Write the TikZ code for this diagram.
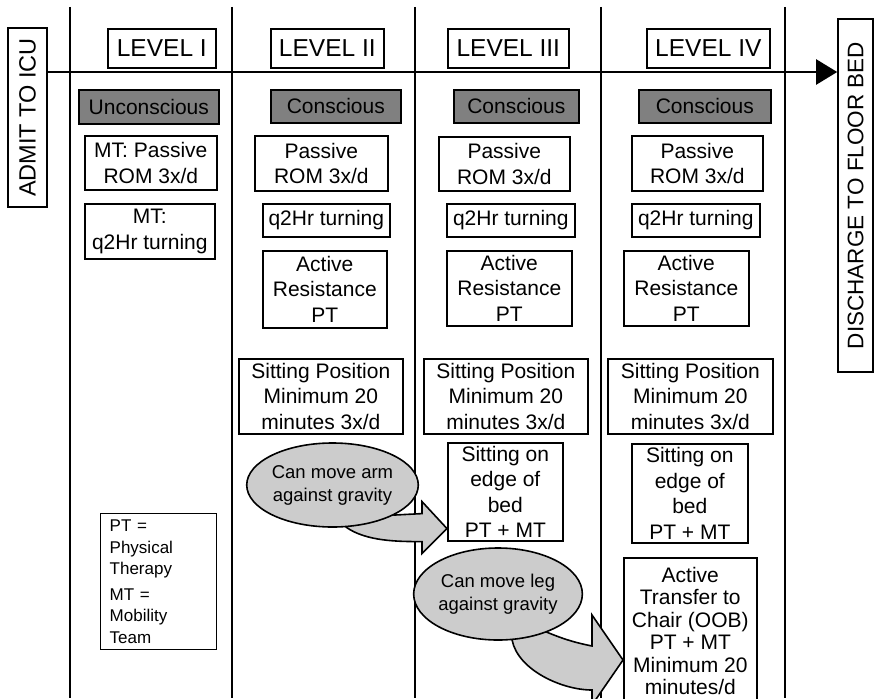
\documentclass[tikz,border=0pt]{standalone}
\usepackage{fontspec}
\setmainfont{Liberation Sans}
\usetikzlibrary{shapes.geometric,arrows.meta,positioning,calc,backgrounds}
\tikzset{
    task/.style={
           rectangle,
           draw=black, line width=1.6pt,
           inner sep=0pt,
           anchor=north west,
           align=center,
           font=\fontsize{21}{25.5}\selectfont,
           },
    phase/.style={task, fill=black!50},
    header/.style={task, font=\fontsize{24.5}{28}\selectfont},
    sidebox/.style={
           rectangle,
           draw=black, line width=1.6pt,
           rotate=90,
           inner sep=0pt,
           font=\fontsize{22.5}{27}\selectfont,
           },
    bubble/.style={
           ellipse,
           draw=black, line width=1.6pt,
           fill=black!20,
           inner sep=0pt,
           align=center,
           font=\fontsize{18.5}{23}\selectfont,
           },
    keybox/.style={
           rectangle,
           draw=black, line width=1.4pt,
           anchor=north west,
           inner xsep=9pt, inner ysep=0pt,
           align=left,
           font=\fontsize{17}{21.5}\selectfont,
           },
    lane/.style={draw=black, line width=2.2pt},
    timeline/.style={draw=black, line width=2.2pt, -{Triangle[length=21pt,width=25pt]}},
    fatarrow/.style={draw=black, line width=1.6pt, fill=black!20, line join=miter},
}

\begin{document}
\begin{tikzpicture}[x=1pt, y=-1pt]
  \useasboundingbox (0,0) rectangle (874,698);

  % start and end of the stay
  \node[sidebox, minimum width=179, minimum height=39, font=\fontsize{23.5}{28}\selectfont] (ADMIT) at (27.5,117.5) {ADMIT TO ICU};
  \node[sidebox, minimum width=353, minimum height=35] (DISCHARGE) at (855.5,195.5) {DISCHARGE TO FLOOR BED};
  \coordinate (AXIS) at (0,72);

  % level I
  \node[header, minimum width=108, minimum height=39] (LVLONE) at (107,28) {LEVEL I};
  \node[phase, minimum width=140, minimum height=34] (UNCON) at (78,89) {Unconscious};
  \node[task, minimum width=132, minimum height=54] (PASSONE) at (84,135) {MT: Passive\\ROM 3x/d};
  \node[task, minimum width=130, minimum height=55] (TURNONE) at (84,203) {MT:\\q2Hr turning};
  \node[keybox, text width=98, minimum height=136] (KEY) at (100,513)
   {PT =\\Physical\\Therapy\\[4pt]MT =\\Mobility\\Team};

  % level II
  \node[header, minimum width=113, minimum height=39] (LVLTWO) at (270,28) {LEVEL II};
  \node[phase, minimum width=130, minimum height=33] (CONSTWO) at (270,89) {Conscious};
  \node[task, minimum width=133, minimum height=55] (PASSTWO) at (254,135) {Passive\\ROM 3x/d};
  \node[task, minimum width=127, minimum height=33] (TURNTWO) at (262,203) {q2Hr turning};
  \node[task, minimum width=124, minimum height=77] (ACTTWO) at (262,250) {Active\\Resistance\\PT};
  \node[task, minimum width=164, minimum height=75] (SITTWO) at (238,358) {Sitting Position\\Minimum 20\\minutes 3x/d};
  \node[bubble, minimum width=141, minimum height=84] (ARM) at (332.5,485) {Can move arm\\against gravity};

  % level III
  \node[header, minimum width=121, minimum height=39] (LVLTHREE) at (447,28) {LEVEL III};
  \node[phase, minimum width=125, minimum height=33] (CONSTHREE) at (453,89) {Conscious};
  \node[task, minimum width=131, minimum height=54] (PASSTHREE) at (438,136) {Passive\\ROM 3x/d};
  \node[task, minimum width=128, minimum height=33] (TURNTHREE) at (446,203) {q2Hr turning};
  \node[task, minimum width=125, minimum height=75] (ACTTHREE) at (446,250) {Active\\Resistance\\PT};
  \node[task, minimum width=164, minimum height=75] (SITTHREE) at (423,358) {Sitting Position\\Minimum 20\\minutes 3x/d};
  \node[task, minimum width=115, minimum height=98] (EDGETHREE) at (447,442) {Sitting on\\edge of\\bed\\PT + MT};
  \node[bubble, minimum width=131, minimum height=92] (LEG) at (498,594) {Can move leg\\against gravity};

  % level IV
  \node[header, minimum width=123, minimum height=39] (LVLFOUR) at (646,28) {LEVEL IV};
  \node[phase, minimum width=132, minimum height=33] (CONSFOUR) at (638,89) {Conscious};
  \node[task, minimum width=131, minimum height=55] (PASSFOUR) at (631,135) {Passive\\ROM 3x/d};
  \node[task, minimum width=128, minimum height=33] (TURNFOUR) at (631,203) {q2Hr turning};
  \node[task, minimum width=125, minimum height=75] (ACTFOUR) at (623,250) {Active\\Resistance\\PT};
  \node[task, minimum width=165, minimum height=75] (SITFOUR) at (607,358) {Sitting Position\\Minimum 20\\minutes 3x/d};
  \node[task, minimum width=116, minimum height=99] (EDGEFOUR) at (631,443) {Sitting on\\edge of\\bed\\PT + MT};
  % runs past the lower edge
  \node[task, minimum width=133, minimum height=146, font=\fontsize{21}{22.5}\selectfont] (TRANSFER) at (623,557)
   {Active\\Transfer to\\Chair (OOB)\\PT + MT\\Minimum 20\\minutes/d};

  \coordinate (TIPONE) at ($(EDGETHREE.south west)+(0,-13)$);
  \coordinate (TIPTWO) at ($(TRANSFER.north west)+(0,103)$);

  % lanes, time line and the two jumps go below the nodes
  \begin{scope}[on background layer]
   \draw[lane] (70,7) -- (70,698) (232,7) -- (232,698) (415,7) -- (415,698)
               (601,7) -- (601,698) (785,7) -- (785,698);
   \draw[timeline] (ADMIT.south |- AXIS) -- (DISCHARGE.north |- AXIS);

   \filldraw[fatarrow] (TIPONE) -- ++(-25,-27) -- ++(0,12) -- (ARM.-26) -- (ARM.center) -- (ARM.-72)
     .. controls +(20,14) and +(-25,0) .. ($(TIPONE)+(-25,13)$) -- ++(0,12) -- cycle;
   \filldraw[fatarrow] (TIPTWO) -- ++(-31,-45) -- ++(0,31)
     .. controls +(-20,-4) and +(15,6) .. (LEG.-38) -- (LEG.center) -- (LEG.-73)
     .. controls +(6,30) and +(-30,0) .. ($(TIPTWO)+(-31,30)$) -- ++(0,15) -- cycle;
  \end{scope}

\end{tikzpicture}
\end{document}
